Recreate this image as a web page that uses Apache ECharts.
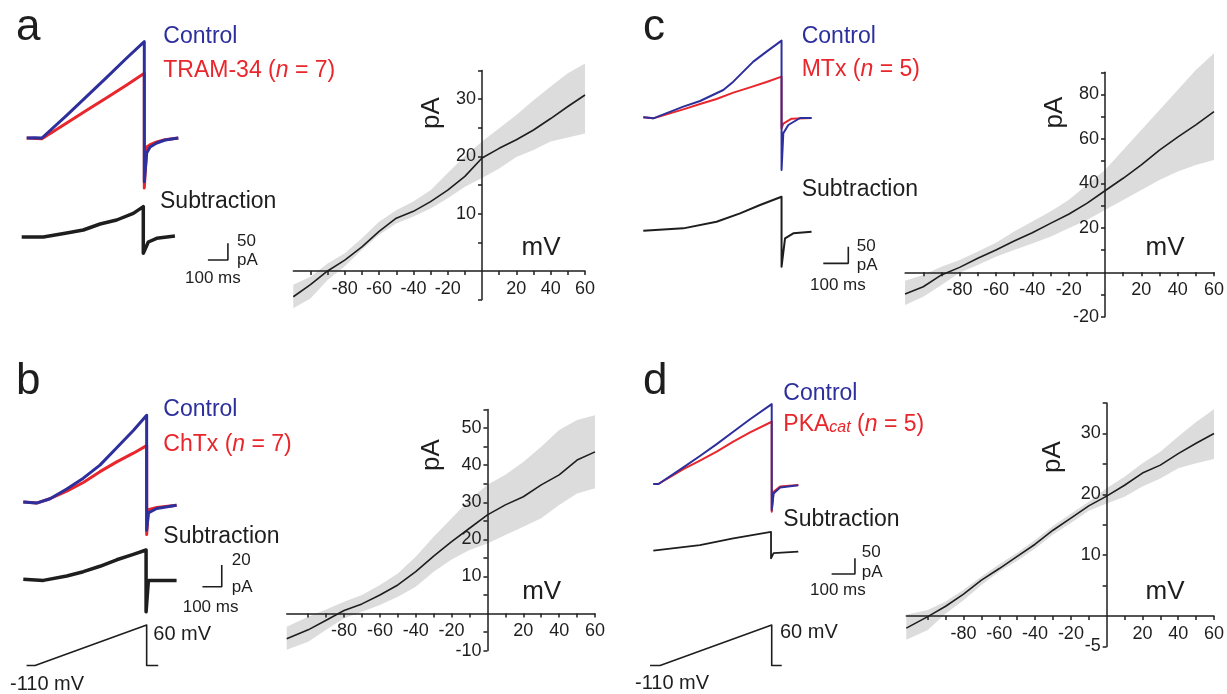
<!DOCTYPE html>
<html><head><meta charset="utf-8">
<script src="https://cdn.jsdelivr.net/npm/echarts@6/dist/echarts.min.js"></script>
<style>html,body{margin:0;padding:0;background:#fff}#c{width:1227px;height:694px}</style>
</head><body><div id="c"></div><script>
// ================= DATA =================
// I-V relations (mV, pA): mean and confidence band
const mvA = [-110,-100,-90,-80,-70,-60,-50,-40,-30,-20,-10,0,10,20,30,40,50,60];
const ivMeanA = [-4.5,-2.4,0,1.9,4.2,6.9,9.2,10.4,12.1,14.1,16.5,19.7,21.4,22.9,24.6,26.6,28.7,30.7];
const ivUpA   = [-2.4,-1.0,1.3,3.1,5.7,8.6,10.6,12.1,14.1,17.1,20.0,22.6,24.9,27.2,29.8,32.2,34.5,36.2];
const ivLoA   = [-6.5,-4.8,-1.6,0.8,3.7,6.3,8.3,9.5,10.9,12.7,14.7,16.2,17.9,19.9,21.1,22.6,23.3,24.0];

const mvB = [-112,-100,-90,-80,-70,-60,-50,-40,-30,-20,-10,0,10,20,30,40,50,60];
const ivMeanB = [-6.8,-4.4,-1.8,0.8,2.6,5.0,7.7,11.3,15.5,19.4,23.0,26.6,29.3,31.5,34.7,37.4,41.4,43.6];
const ivUpB   = [-3.6,-0.9,1.1,3.2,5.0,7.7,10.8,15.3,20.7,25.7,30.6,34.7,37.4,40.9,45.0,49.5,52.2,53.5];
const ivLoB   = [-9.8,-7.6,-4.4,-1.3,0.5,2.3,4.5,7.2,11.3,14.6,17.1,18.9,21.2,23.4,25.7,29.3,32.4,33.8];

const mvC = [-110,-100,-90,-80,-70,-60,-50,-40,-30,-20,-10,0,10,20,30,40,50,60];
const ivMeanC = [-9.8,-6.5,-1.2,2.2,6.3,10.0,14.1,17.8,22.0,26.1,31.0,36.7,42.3,48.3,55.0,60.8,66.3,72.3];
const ivUpC   = [-3.8,-1.2,2.5,5.5,9.3,13.3,18.3,22.8,27.3,32.5,39.3,46.0,55.0,64.0,73.0,82.0,91.0,98.6];
const ivLoC   = [-14.7,-11.0,-5.7,-0.2,3.3,7.0,10.0,13.0,16.0,19.8,23.5,28.0,32.5,37.0,41.5,45.3,48.3,50.5];

const mvD = [-112,-100,-90,-80,-70,-60,-50,-40,-30,-20,-10,0,10,20,30,40,50,60];
const ivMeanD = [-2.0,-0.1,1.6,3.6,5.9,7.8,9.8,11.8,14.1,16.1,18.1,19.7,21.5,23.5,24.8,26.7,28.4,30.0];
const ivUpD   = [0.2,1.0,2.4,4.3,6.5,8.5,10.4,12.5,14.8,16.8,18.8,21.0,22.9,25.1,27.0,29.5,31.9,34.0];
const ivLoD   = [-3.9,-2.3,0.4,2.6,5.1,7.3,9.1,11.1,13.4,15.3,17.3,18.5,19.6,21.3,22.6,24.3,25.1,25.8];

// axis ticks / tick labels
const ivXTicks = [-100,-90,-80,-70,-60,-50,-40,-30,-20,-10,10,20,30,40,50,60];
const ivXLabels = [-80,-60,-40,-20,20,40,60];
const yTicksA = [-5,5,10,15,20,25,30,35];   const yLabelsA = [10,20,30];
const yTicksB = [-10,-5,5,10,15,20,25,30,35,40,45,50,55]; const yLabelsB = [-10,10,20,30,40,50];
const yTicksC = [-20,-10,10,20,30,40,50,60,70,80,90]; const yLabelsC = [-20,20,40,60,80];
const yTicksD = [-5,5,10,15,20,25,30,35];   const yLabelsD = [-5,10,20,30];

// current traces (time ms, current pA)
const tCtrlA = [0,40,76,200,300,400,500,588,588,600,617,650,692,758];
const iCtrlA = [0,1,0,68,125,182,240,289,-131,-45,-27,-15,-6,0];
const tDrugA = [0,76,200,300,400,500,588,588,600,617,650,692,758];
const iDrugA = [0,-2,45,83,121,159,194,-150,-27,-20,-12,-5,0];
const tSubA  = [0,108,225,308,392,475,558,608,608,633,675,766];
const iSubA  = [0,0,12,21,39,51,71,91,-49,-15,-4,3];

const tCtrlB = [0,69,138,225,311,397,484,570,639,639,648,691,794];
const iCtrlB = [0,-1,3,12,22,34,50,66,80,-26,-10,-6,-3];
const tDrugB = [0,69,138,225,311,397,484,570,639,639,648,691,794];
const iDrugB = [0,-1,3,10,18,28,37,45,52,-30,-7,-5,-3];
const tSubB  = [0,104,225,311,397,484,570,636,636,648,794];
const iSubB  = [0,-1,3,7,12,18,23,27,-30,-1,-1];

const tCtrlC = [0,40,160,227,320,360,400,440,493,553,553,560,580,627,673];
const iCtrlC = [2,-1,34,51,84,109,139,169,199,232,-156,-46,-21,0,0];
const tDrugC = [0,40,160,227,293,360,427,493,553,553,560,593,673];
const iDrugC = [2,-1,26,42,57,76,92,108,124,-31,-17,-2,0];
const tSubC  = [0,160,293,387,467,553,553,567,600,673];
const iSubC  = [0,7,27,52,77,102,-108,-23,-8,-3];

const tCtrlD = [0,22,129,200,272,343,415,508,508,516,544,622];
const iCtrlD = [0,0,53,89,127,166,206,254,-83,-30,-11,-4];
const tDrugD = [0,22,129,200,272,343,415,508,508,516,544,622];
const iDrugD = [0,0,47,74,103,135,164,198,-88,-25,-8,-3];
const tSubD  = [0,200,343,505,505,516,622];
const iSubD  = [0,18,39,60,-24,-8,-3];

// voltage protocol (time ms, mV)
const tVoltB = [17,61,639,639,699];
const vVoltB = [-110,-110,60,-110,-110];
const tVoltD = [-14,29,508,508,551];
const vVoltD = [-110,-110,60,-110,-110];

// scale bars: [ms, pA]
const scaleA = [100,50], scaleB = [100,20], scaleC = [100,50], scaleD = [100,50];

// ================= STYLE / LAYOUT =================
const FONT = '"Liberation Sans", Arial, sans-serif';
const INK = '#1e1e1e';
const BLUE = '#2d2f9c';
const RED = '#e8262b';
const BAND = '#dcdcdc';

const grids = [], xAxes = [], yAxes = [], series = [], graphics = [];

function addHiddenGrid(g) {
  const i = grids.length;
  grids.push({left: g.x0 + g.tMin / g.mpp, width: (g.tMax - g.tMin) / g.mpp,
              top: g.y0 - g.vMax / g.ppp, height: (g.vMax - g.vMin) / g.ppp});
  xAxes.push({gridIndex: i, type: 'value', min: g.tMin, max: g.tMax, show: false});
  yAxes.push({gridIndex: i, type: 'value', min: g.vMin, max: g.vMax, show: false});
  return i;
}
function trace(gi, ts, vs, color, width) {
  series.push({type: 'line', xAxisIndex: gi, yAxisIndex: gi,
    data: ts.map((t, k) => [t, vs[k]]), showSymbol: false, symbol: 'none', clip: false,
    silent: true, lineStyle: {color: color, width: width, join: 'round'}});
}
function scaleBar(gi, corner, sc) {
  const [t, i] = corner;
  series.push({type: 'line', xAxisIndex: gi, yAxisIndex: gi, clip: false, silent: true,
    data: [[t - sc[0], i], [t, i], [t, i + sc[1]]], showSymbol: false, symbol: 'none',
    lineStyle: {color: INK, width: 1.6}});
}
function addIV(p, xs, mean, up, lo, yTicks, yLabels) {
  const i = grids.length;
  const w = p.right - p.left, h = p.bottom - p.top;
  grids.push({left: p.left, top: p.top, width: w, height: h});
  // pixel offsets that put each axis through the origin
  const zeroX = (0 - p.xMin) / (p.xMax - p.xMin) * w;      // from grid left
  const zeroY = (0 - p.yMin) / (p.yMax - p.yMin) * h;      // from grid bottom
  const ax = {color: INK, width: 1.5};
  xAxes.push({gridIndex: i, type: 'value', min: p.xMin, max: p.xMax, z: 10,
    position: 'bottom', offset: -zeroY,
    axisLine: {onZero: false, lineStyle: ax},
    axisTick: {show: true, customValues: ivXTicks, length: 4, lineStyle: ax},
    axisLabel: {customValues: ivXLabels, color: INK, fontSize: 18, fontFamily: FONT, margin: 9},
    splitLine: {show: false}});
  yAxes.push({gridIndex: i, type: 'value', min: p.yMin, max: p.yMax, z: 10,
    position: 'left', offset: -zeroX,
    axisLine: {onZero: false, lineStyle: ax},
    axisTick: {show: true, customValues: yTicks, length: 4, lineStyle: ax},
    axisLabel: {customValues: yLabels, color: INK, fontSize: 18, fontFamily: FONT, margin: 6,
                showMinLabel: true, showMaxLabel: true},
    splitLine: {show: false}});
  series.push({type: 'custom', xAxisIndex: i, yAxisIndex: i, clip: false, silent: true, z: 1,
    data: [[xs[0], mean[0]]],
    renderItem: function (params, api) {
      const pts = [];
      for (let k = 0; k < xs.length; k++) pts.push(api.coord([xs[k], up[k]]));
      for (let k = xs.length - 1; k >= 0; k--) pts.push(api.coord([xs[k], lo[k]]));
      return {type: 'polygon', shape: {points: pts}, style: {fill: BAND}};
    }});
  series.push({type: 'line', xAxisIndex: i, yAxisIndex: i, z: 3, silent: true,
    data: xs.map((x, k) => [x, mean[k]]), showSymbol: false, symbol: 'none',
    lineStyle: {color: INK, width: 1.6}});
}

const mctx = document.createElement('canvas').getContext('2d');
function txt(x, y, text, size, color, o) {
  o = o || {};
  const font = (o.italic ? 'italic ' : '') + size + 'px ' + FONT;
  graphics.push({type: 'text', x: x, y: y, rotation: o.rot || 0, silent: true,
    style: {text: text, font: font, fill: color, textAlign: o.align || 'left',
            textVerticalAlign: 'middle', align: o.align || 'left', verticalAlign: 'middle'}});
  mctx.font = font;
  return mctx.measureText(text).width;
}
function run(x, y, color, parts) {
  let cx = x;
  parts.forEach(p => { cx += txt(cx, y + (p.dy || 0), p.t, p.size || 23, color, {italic: p.it}); });
}

// ---------- Panel a ----------
{
  const g1 = addHiddenGrid({x0: 26.7, y0: 138, mpp: 5, ppp: 3, tMin: 0, tMax: 770, vMin: -160, vMax: 300});
  trace(g1, tDrugA, iDrugA, RED, 3);
  trace(g1, tCtrlA, iCtrlA, BLUE, 3);
  const g2 = addHiddenGrid({x0: 21.7, y0: 237, mpp: 5, ppp: 3, tMin: 0, tMax: 1050, vMin: -80, vMax: 110});
  trace(g2, tSubA, iSubA, INK, 3.5);
  scaleBar(g2, [1031, -69], scaleA);
  addIV({left: 293.3, right: 585, top: 70.4, bottom: 299.6, xMin: -110, xMax: 60, yMin: -5, yMax: 35},
        mvA, ivMeanA, ivUpA, ivLoA, yTicksA, yLabelsA);
  txt(16, 27.8, 'a', 44, INK);
  txt(163.3, 37, 'Control', 23, BLUE);
  run(163.3, 70.3, RED, [{t: 'TRAM-34 ('}, {t: 'n', it: true}, {t: ' = 7)'}]);
  txt(160, 202, 'Subtraction', 23, INK);
  txt(237, 241, '50', 17, INK); txt(237, 260, 'pA', 17, INK); txt(185, 278, '100 ms', 17, INK);
  txt(432, 113, 'pA', 26, INK, {align: 'center', rot: Math.PI / 2});
  txt(541, 248, 'mV', 26, INK, {align: 'center'});
}
// ---------- Panel b ----------
{
  const g1 = addHiddenGrid({x0: 23.3, y0: 502, mpp: 5.18, ppp: 0.922, tMin: 0, tMax: 800, vMin: -35, vMax: 90});
  trace(g1, tDrugB, iDrugB, RED, 3);
  trace(g1, tCtrlB, iCtrlB, BLUE, 3);
  const g2 = addHiddenGrid({x0: 23.3, y0: 579.3, mpp: 5.18, ppp: 0.922, tMin: 0, tMax: 1050, vMin: -35, vMax: 30});
  trace(g2, tSubB, iSubB, INK, 3.5);
  scaleBar(g2, [1028, -6.8], scaleB);
  const g3 = addHiddenGrid({x0: 23.3, y0: 639.3, mpp: 5.18, ppp: 4.2, tMin: 0, tMax: 720, vMin: -115, vMax: 65});
  trace(g3, tVoltB, vVoltB, INK, 1.6);
  addIV({left: 286.7, right: 595, top: 409.6, bottom: 650.6, xMin: -112, xMax: 60, yMin: -10, yMax: 55},
        mvB, ivMeanB, ivUpB, ivLoB, yTicksB, yLabelsB);
  txt(16, 381.8, 'b', 44, INK);
  txt(163.3, 410, 'Control', 23, BLUE);
  run(163.3, 445, RED, [{t: 'ChTx ('}, {t: 'n', it: true}, {t: ' = 7)'}]);
  txt(163.3, 537, 'Subtraction', 23, INK);
  txt(231.7, 560, '20', 17, INK); txt(231.7, 587, 'pA', 17, INK); txt(182.7, 607, '100 ms', 17, INK);
  txt(153.3, 634, '60 mV', 20, INK); txt(10, 684, '-110 mV', 20, INK);
  txt(431.7, 455, 'pA', 26, INK, {align: 'center', rot: Math.PI / 2});
  txt(541.7, 592, 'mV', 26, INK, {align: 'center'});
}
// ---------- Panel c ----------
{
  const g1 = addHiddenGrid({x0: 643.3, y0: 118, mpp: 4, ppp: 3, tMin: 0, tMax: 700, vMin: -160, vMax: 240});
  trace(g1, tDrugC, iDrugC, RED, 2);
  trace(g1, tCtrlC, iCtrlC, BLUE, 2);
  const g2 = addHiddenGrid({x0: 643.3, y0: 230.7, mpp: 4, ppp: 3, tMin: 0, tMax: 830, vMin: -110, vMax: 110});
  trace(g2, tSubC, iSubC, INK, 2);
  scaleBar(g2, [820, -98], scaleC);
  addIV({left: 905.1, right: 1214, top: 72.3, bottom: 316.7, xMin: -110, xMax: 60, yMin: -20, yMax: 90},
        mvC, ivMeanC, ivUpC, ivLoC, yTicksC, yLabelsC);
  txt(643, 27.8, 'c', 44, INK);
  txt(801.7, 37, 'Control', 23, BLUE);
  run(801.7, 70, RED, [{t: 'MTx ('}, {t: 'n', it: true}, {t: ' = 5)'}]);
  txt(801.7, 190, 'Subtraction', 23, INK);
  txt(856.7, 246, '50', 17, INK); txt(856.7, 265, 'pA', 17, INK); txt(810, 285, '100 ms', 17, INK);
  txt(1055, 112.5, 'pA', 26, INK, {align: 'center', rot: Math.PI / 2});
  txt(1165, 248, 'mV', 26, INK, {align: 'center'});
}
// ---------- Panel d ----------
{
  const g1 = addHiddenGrid({x0: 653.3, y0: 484, mpp: 4.29, ppp: 3.18, tMin: -20, tMax: 640, vMin: -90, vMax: 260});
  trace(g1, tDrugD, iDrugD, RED, 2);
  trace(g1, tCtrlD, iCtrlD, BLUE, 2);
  const g2 = addHiddenGrid({x0: 653.3, y0: 550.7, mpp: 4.29, ppp: 3.18, tMin: -20, tMax: 880, vMin: -80, vMax: 70});
  trace(g2, tSubD, iSubD, INK, 1.8);
  scaleBar(g2, [865, -74], scaleD);
  const g3 = addHiddenGrid({x0: 653.3, y0: 639.3, mpp: 4.29, ppp: 4.2, tMin: -20, tMax: 560, vMin: -115, vMax: 65});
  trace(g3, tVoltD, vVoltD, INK, 1.6);
  addIV({left: 906.3, right: 1214, top: 403.1, bottom: 646.4, xMin: -112, xMax: 60, yMin: -5, yMax: 35},
        mvD, ivMeanD, ivUpD, ivLoD, yTicksD, yLabelsD);
  txt(643, 381.8, 'd', 44, INK);
  txt(783.3, 393.7, 'Control', 23, BLUE);
  run(783.3, 425, RED, [{t: 'PKA'}, {t: 'cat', it: true, size: 16, dy: 2.5}, {t: ' ('}, {t: 'n', it: true}, {t: ' = 5)'}]);
  txt(783.3, 520, 'Subtraction', 23, INK);
  txt(861.7, 552, '50', 17, INK); txt(861.7, 572, 'pA', 17, INK); txt(810, 590, '100 ms', 17, INK);
  txt(780, 632, '60 mV', 20, INK); txt(635, 683, '-110 mV', 20, INK);
  txt(1053, 457, 'pA', 26, INK, {align: 'center', rot: Math.PI / 2});
  txt(1165, 592, 'mV', 26, INK, {align: 'center'});
}

const chart = echarts.init(document.getElementById('c'));
chart.setOption({
  animation: false,
  backgroundColor: '#ffffff',
  grid: grids.map(g => Object.assign({outerBoundsMode: 'none', containLabel: false}, g)),
  xAxis: xAxes, yAxis: yAxes, series: series,
  graphic: {elements: graphics}
});
</script></body></html>
